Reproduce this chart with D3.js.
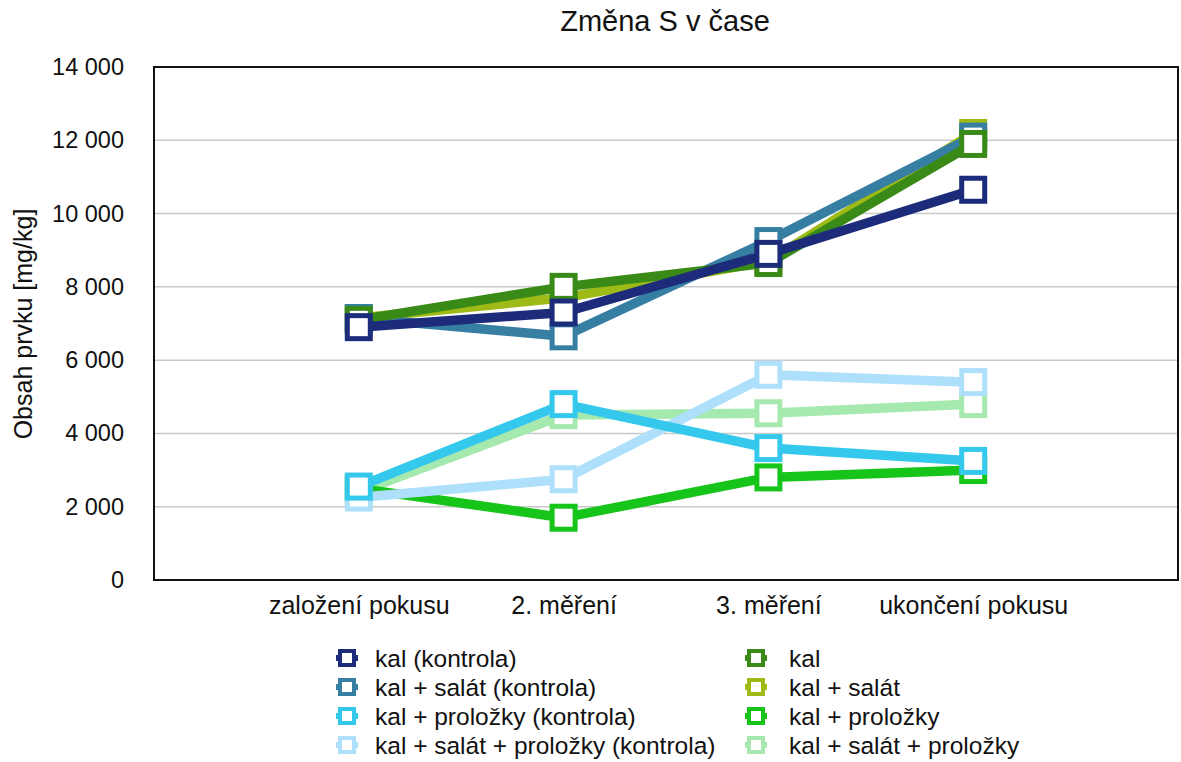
<!DOCTYPE html>
<html><head><meta charset="utf-8">
<script src="https://cdn.jsdelivr.net/npm/d3@7"></script>
<style>body{margin:0;background:#fff;} svg{display:block;font-family:"Liberation Sans",Arial,Helvetica,sans-serif;}</style>
</head><body>
<svg id="c" width="1181" height="762"></svg>
<script>
const title = "Změna S v čase";
const yTitle = "Obsah prvku [mg/kg]";
const categories = ["založení pokusu", "2. měření", "3. měření", "ukončení pokusu"];
const yTicks = [0, 2000, 4000, 6000, 8000, 10000, 12000, 14000];

const seriesNames = ["kal (kontrola)", "kal + salát (kontrola)", "kal + proložky (kontrola)", "kal + salát + proložky (kontrola)",
                     "kal", "kal + salát", "kal + proložky", "kal + salát + proložky"];
const kalKontrola = [6900, 7300, 8900, 10650];
const kalSalatKontrola = [7150, 6650, 9250, 12100];
const kalProlozkyKontrola = [2550, 4800, 3600, 3250];
const kalSalatProlozkyKontrola = [2250, 2750, 5600, 5400];
const kal = [7100, 8000, 8650, 11900];
const kalSalat = [7150, 7700, 8700, 12200];
const kalProlozky = [2500, 1700, 2800, 3000];
const kalSalatProlozky = [2400, 4500, 4550, 4800];
const seriesValues = [kalKontrola, kalSalatKontrola, kalProlozkyKontrola, kalSalatProlozkyKontrola,
                      kal, kalSalat, kalProlozky, kalSalatProlozky];
const colors = ["#1c2c7b", "#367fa3", "#34c9ec", "#aee0fb", "#3a8a18", "#9dba16", "#16c41a", "#a6e9ae"];
// drawing order (first drawn = bottom)
const drawOrder = [7, 6, 3, 2, 5, 1, 4, 0];

const svg = d3.select("#c");
const L = 154, R = 1178, T = 67, B = 580;
const x = d3.scaleLinear().domain([0, categories.length + 1]).range([L, R]);
const y = d3.scaleLinear().domain([0, 14000]).range([B, T]);

svg.append("text").attr("x", 665).attr("y", 31).attr("text-anchor", "middle")
  .attr("font-size", 29).attr("fill", "#111").text(title);

// gridlines
svg.append("g").selectAll("line").data(yTicks.filter(d => d > 0 && d < 14000)).join("line")
  .attr("x1", L).attr("x2", R).attr("y1", d => y(d)).attr("y2", d => y(d))
  .attr("stroke", "#c9c9c9").attr("stroke-width", 1.5);

// y axis labels
const fmt = d => d3.format(",")(d).replace(/,/g, " ");
const yAxis = d3.axisLeft(y).tickValues(yTicks).tickSize(0).tickPadding(30).tickFormat(fmt);
const ya = svg.append("g").attr("transform", `translate(${L},0)`).call(yAxis);
ya.select(".domain").remove();
ya.selectAll("text").attr("font-size", 23.5).attr("fill", "#111").attr("font-family", "Liberation Sans, Arial, sans-serif");

// x axis labels
const xAxis = d3.axisBottom(x).tickValues(categories.map((c, i) => i + 1)).tickSize(0).tickPadding(16)
  .tickFormat(d => categories[d - 1]);
const xa = svg.append("g").attr("transform", `translate(0,${B})`).call(xAxis);
xa.select(".domain").remove();
xa.selectAll("text").attr("font-size", 25).attr("fill", "#111").attr("font-family", "Liberation Sans, Arial, sans-serif");

// y title
svg.append("text").attr("transform", `translate(32,${(210 + 438) / 2}) rotate(-90)`).attr("text-anchor", "middle")
  .attr("font-size", 25).attr("fill", "#111").text(yTitle);

// series
const line = d3.line().x((d, i) => x(i + 1)).y(d => y(d));
const sq = 23;
drawOrder.forEach(si => {
  const g = svg.append("g");
  g.append("path").datum(seriesValues[si]).attr("d", line).attr("fill", "none")
    .attr("stroke", colors[si]).attr("stroke-width", 9.5).attr("stroke-linejoin", "round");
  g.selectAll("rect").data(seriesValues[si]).join("rect")
    .attr("x", (d, i) => x(i + 1) - sq / 2).attr("y", d => y(d) - sq / 2)
    .attr("width", sq).attr("height", sq).attr("fill", "#fff")
    .attr("stroke", colors[si]).attr("stroke-width", 5);
});

// frame
svg.append("rect").attr("x", L).attr("y", T).attr("width", R - L).attr("height", B - T)
  .attr("fill", "none").attr("stroke", "#111").attr("stroke-width", 2);

// legend
const legX = [347, 756], legY0 = 658, legDy = 29;
seriesNames.forEach((name, i) => {
  const col = Math.floor(i / 4), row = i % 4;
  const cx = legX[col], cy = legY0 + row * legDy;
  const g = svg.append("g");
  g.append("line").attr("x1", cx - 11).attr("x2", cx + 11).attr("y1", cy).attr("y2", cy)
    .attr("stroke", colors[i]).attr("stroke-width", 6);
  g.append("rect").attr("x", cx - 7).attr("y", cy - 7).attr("width", 14).attr("height", 14)
    .attr("fill", "#fff").attr("stroke", colors[i]).attr("stroke-width", 4);
  g.append("text").attr("x", cx + 28 + col * 5).attr("y", cy + 9).attr("font-size", 24.5).attr("fill", "#111").text(name);
});
</script>
</body></html>
